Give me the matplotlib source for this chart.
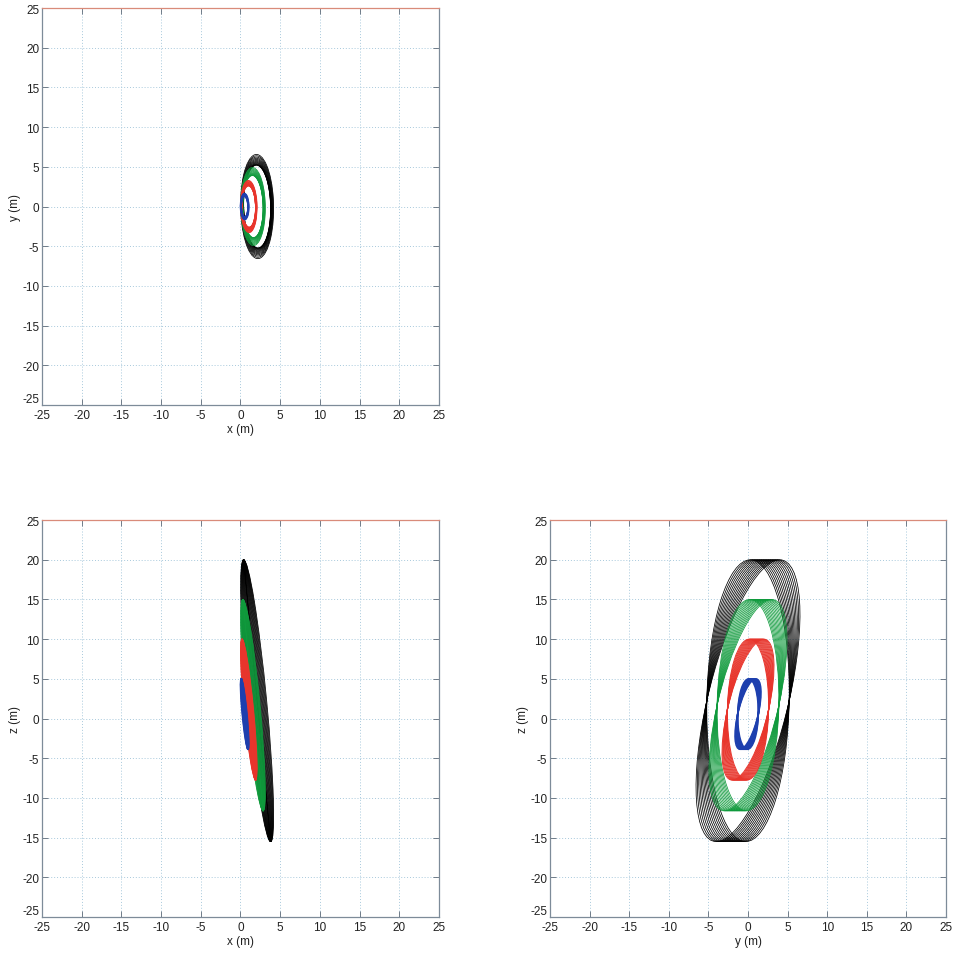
import matplotlib
matplotlib.use('Agg')
import matplotlib.pyplot as plt
import numpy as np
from matplotlib.patches import Circle
from matplotlib.transforms import Affine2D

plt.rcParams['font.family'] = ['Liberation Sans', 'DejaVu Sans']
plt.rcParams['axes.unicode_minus'] = False

# Relative orbits: one ring per size, drawn as several slowly changing loops
ring_names = ['black', 'green', 'red', 'blue']
ring_radius = [20, 15, 10, 5]
ring_colors = ['#000000', '#0f9a3c', '#e8352c', '#1d3fae']
ring_widths = [0.55, 0.55, 0.7, 1.1]
n_loops = [14, 14, 14, 8]

# Loop shape per unit radius (read from the three views)
x_center = 0.105
x_sin = -0.085
x_cos_first, x_cos_last = 0.0, 0.06
y_center = 0.0
y_sin_first, y_sin_last = 0.015, 0.2
y_cos = 0.26
z_center = 0.1125
z_sin = 0.8875

ticks = [-25, -20, -15, -10, -5, 0, 5, 10, 15, 20, 25]

fig = plt.figure(figsize=(9.58, 9.54), dpi=100)
ax_xy = fig.add_axes([0.0438, 0.5744, 0.4144, 0.4161])
ax_xz = fig.add_axes([0.0438, 0.0377, 0.4144, 0.4161])
ax_yz = fig.add_axes([0.5741, 0.0377, 0.4134, 0.4161])


def loop_params(r, k, n):
    f = k / max(n - 1, 1)
    c = {'x': r * x_center, 'y': r * y_center, 'z': r * z_center}
    cos_part = {'x': r * (x_cos_first + f * (x_cos_last - x_cos_first)),
                'y': r * y_cos, 'z': 0.0}
    sin_part = {'x': r * x_sin,
                'y': r * (y_sin_first + f * (y_sin_last - y_sin_first)),
                'z': r * z_sin}
    return c, cos_part, sin_part


def draw_view(ax, h, v, xlabel, ylabel):
    for r, col, w, n in zip(ring_radius, ring_colors, ring_widths, n_loops):
        for k in range(n):
            c, cp, sp = loop_params(r, k, n)
            m = np.array([[cp[h], sp[h], c[h]],
                          [cp[v], sp[v], c[v]],
                          [0, 0, 1]])
            loop = Circle((0, 0), 1, fill=False, edgecolor=col, lw=w,
                          transform=Affine2D(m) + ax.transData)
            ax.add_patch(loop)
    ax.set_xlim(-25, 25)
    ax.set_ylim(-25, 25)
    ax.set_xticks(ticks)
    ax.set_yticks(ticks)
    ax.grid(True, color='#a8c9dc', linestyle=(0, (1, 2)), lw=0.7)
    ax.set_axisbelow(True)
    ax.tick_params(direction='in', length=4, width=0.6, top=True, right=True,
                   labelsize=8.5, colors='#5d6a78', labelcolor='#222222')
    ax.tick_params(axis='x', pad=3)
    ax.tick_params(axis='y', pad=2)
    for s in ax.spines.values():
        s.set_color('#7d8b99')
        s.set_linewidth(0.9)
    ax.spines['top'].set_color('#d98b7a')
    ax.set_xlabel(xlabel, fontsize=8.5, labelpad=1, color='#222222')
    ax.set_ylabel(ylabel, fontsize=8.5, labelpad=1, color='#222222')
    # lowest y label sits just above the corner, as in the original
    ax.get_yticklabels()[0].set_verticalalignment('bottom')


draw_view(ax_xy, 'x', 'y', 'x (m)', 'y (m)')
draw_view(ax_xz, 'x', 'z', 'x (m)', 'z (m)')
draw_view(ax_yz, 'y', 'z', 'y (m)', 'z (m)')

fig.savefig('out.png', dpi=100)
